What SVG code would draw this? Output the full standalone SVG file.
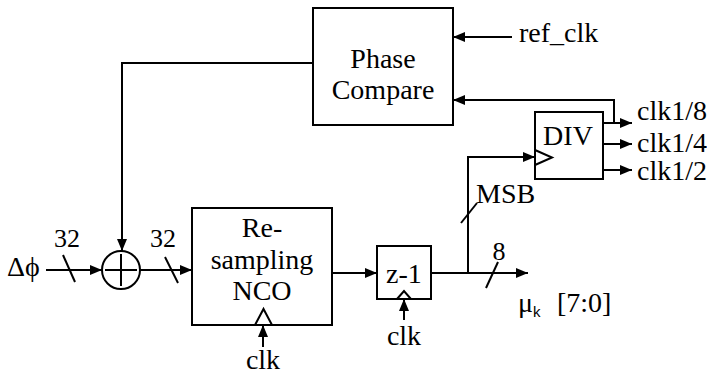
<svg xmlns="http://www.w3.org/2000/svg" width="707" height="375" viewBox="0 0 707 375">
<defs>
<marker id="ah" viewBox="0 0 12 10" refX="12" refY="5" markerWidth="12" markerHeight="10" markerUnits="userSpaceOnUse" orient="auto">
<path d="M0,0 L12,5 L0,10 Z" fill="#000"/>
</marker>
<style>
.box{fill:#fff;stroke:#000;stroke-width:2}
.ln{fill:none;stroke:#000;stroke-width:2}
.arr{fill:none;stroke:#000;stroke-width:2;marker-end:url(#ah)}
.t{font-family:'Liberation Serif','DejaVu Serif',serif;font-size:28px;fill:#000}
.n{font-size:26px}
.c{text-anchor:middle}
</style>
</defs>
<rect width="707" height="375" fill="#fff"/>
<g id="phase_compare">
<rect class="box" x="313" y="8" width="140" height="117"/>
<text class="t c" x="383" y="68">Phase</text>
<text class="t c" x="383" y="99">Compare</text>
</g>
<g id="adder">
<circle class="box" cx="121" cy="270" r="19"/>
<path class="ln" d="M105,270 H137 M121,254 V286"/>
</g>
<g id="nco">
<rect class="box" x="192" y="208" width="140" height="117"/>
<text class="t c" x="262" y="237">Re-</text>
<text class="t c" x="262" y="269">sampling</text>
<text class="t c" x="262" y="300">NCO</text>
<path class="box" d="M255,325 L263.5,309 L272,325 Z"/>
</g>
<g id="delay">
<rect class="box" x="377" y="246" width="54" height="53"/>
<text class="t c" x="404" y="283">z-1</text>
<path class="box" d="M397,299 L404,291 L411,299 Z"/>
</g>
<g id="div">
<rect class="box" x="535" y="112" width="68" height="67"/>
<text class="t c" x="568" y="145">DIV</text>
<path class="ln" d="M535,150 L552,157.5 L535,165"/>
</g>
<g id="connectors">
<path class="arr" d="M46,270 H102"/>
<path class="ln" d="M63,255 L75,282"/>
<path class="arr" d="M313,63 H122 V251"/>
<path class="arr" d="M140,270 H192"/>
<path class="ln" d="M165,257 L178,283"/>
<path class="arr" d="M332,273 H377"/>
<path class="arr" d="M431,273 H528"/>
<path class="ln" d="M498,262 L486,288"/>
<path class="arr" d="M468,273 V157 H535"/>
<path class="ln" d="M477,203 L461,223"/>
<path class="arr" d="M603,123 H632"/>
<path class="arr" d="M603,144 H632"/>
<path class="arr" d="M603,170 H632"/>
<path class="arr" d="M614,123 V100 H453"/>
<path class="arr" d="M512,37 H453"/>
<path class="arr" d="M263,347 V325"/>
<path class="arr" d="M404,320 V299"/>
</g>
<g id="labels">
<text class="t" x="7" y="276">Δϕ</text>
<text class="t n c" x="67" y="247">32</text>
<text class="t n c" x="163" y="247">32</text>
<text class="t n c" x="499" y="260">8</text>
<text class="t" x="476" y="203">MSB</text>
<text class="t" x="519" y="42">ref_clk</text>
<text class="t" x="637" y="120">clk1/8</text>
<text class="t" x="637" y="152">clk1/4</text>
<text class="t" x="637" y="180">clk1/2</text>
<text class="t c" x="263" y="369">clk</text>
<text class="t c" x="404" y="345">clk</text>
<text class="t" x="518" y="312">μ<tspan style="font-family:'Liberation Sans',sans-serif;font-size:15px" dy="5">k</tspan><tspan dy="-5" x="557">[7:0]</tspan></text>
</g>
</svg>
